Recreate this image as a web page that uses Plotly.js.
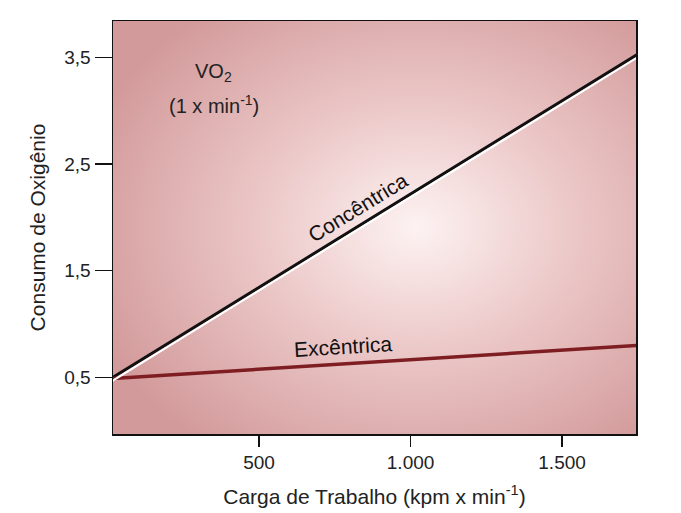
<!DOCTYPE html>
<html>
<head>
<meta charset="utf-8">
<script src="https://cdn.plot.ly/plotly-3.0.1.min.js"></script>
<style>html,body{margin:0;padding:0;background:#fff;}#chart{width:681px;height:513px;}</style>
</head>
<body>
<div id="chart"></div>
<script>
// Data
const workload = [0, 1750];                 // kpm x min^-1
const concentrica = [0.47, 3.53];           // VO2 (l x min^-1)
const excentrica = [0.487, 0.80];
const xTicks = [500, 1000, 1500];
const yTicks = [0.5, 1.5, 2.5, 3.5];

const xRange = [18, 1744];
const yRange = [-0.03, 3.84];
const shadowShift = 0.03;

const svg = "<svg xmlns='http://www.w3.org/2000/svg' width='100' height='100' preserveAspectRatio='none'>" +
  "<defs><radialGradient id='g' cx='0.58' cy='0.5' r='0.66' gradientUnits='objectBoundingBox'>" +
  "<stop offset='0' stop-color='#fdf2f2'/><stop offset='0.45' stop-color='#ecc8c8'/><stop offset='1' stop-color='#d39a9b'/></radialGradient></defs>" +
  "<rect width='100' height='100' fill='url(#g)'/></svg>";
const bgSrc = "data:image/svg+xml;charset=utf-8," + encodeURIComponent(svg);

const font = "Liberation Sans, Arial, sans-serif";

const traces = [
  {x: workload, y: concentrica, yaxis: 'y2', mode: 'lines', line: {color: '#ffffff', width: 2}, hoverinfo: 'skip', showlegend: false},
  {x: workload, y: concentrica, mode: 'lines', name: 'Concêntrica', line: {color: '#111111', width: 3}, showlegend: false},
  {x: workload, y: excentrica, mode: 'lines', name: 'Excêntrica', line: {color: '#7e1e22', width: 3.5}, showlegend: false}
];

const layout = {
  width: 681, height: 513,
  margin: {l: 113, r: 45, t: 21, b: 79},
  paper_bgcolor: '#ffffff',
  plot_bgcolor: 'rgba(0,0,0,0)',
  separators: ',.',
  font: {family: font, color: '#222', size: 15},
  images: [{source: bgSrc, xref: 'paper', yref: 'paper', x: 0, y: 1, sizex: 1, sizey: 1,
            xanchor: 'left', yanchor: 'top', sizing: 'stretch', layer: 'below'}],
  xaxis: {
    range: xRange, tickvals: xTicks, tickformat: ',d',
    showgrid: false, zeroline: false,
    showline: true, linecolor: '#111', linewidth: 1.5, mirror: true,
    ticks: 'outside', ticklen: 11, tickwidth: 1.5, tickcolor: '#111',
    tickfont: {family: font, size: 19, color: '#222'},
    title: {text: 'Carga de Trabalho (kpm x min<sup>-1</sup>)', font: {family: font, size: 21, color: '#222'}, standoff: 17}
  },
  yaxis: {
    range: yRange, tickvals: yTicks, tickformat: '.1f',
    showgrid: false, zeroline: false,
    showline: true, linecolor: '#111', linewidth: 1.5, mirror: true,
    ticks: 'outside', ticklen: 17, tickwidth: 1.5, tickcolor: '#111',
    tickfont: {family: font, size: 19, color: '#222'},
    title: {text: 'Consumo de Oxigênio', font: {family: font, size: 21, color: '#222'}, standoff: 13}
  },
  yaxis2: {
    overlaying: 'y', range: [yRange[0] + shadowShift, yRange[1] + shadowShift],
    visible: false, showgrid: false, zeroline: false
  },
  annotations: [
    {x: 351, y: 3.36, xref: 'x', yref: 'y', text: 'VO<sub>2</sub>', showarrow: false, font: {family: font, size: 20, color: '#222'}},
    {x: 351, y: 3.06, xref: 'x', yref: 'y', text: '(1 x min<sup>-1</sup>)', showarrow: false, font: {family: font, size: 20, color: '#222'}},
    {x: 826, y: 2.09, xref: 'x', yref: 'y', text: 'Concêntrica', textangle: -31.5, showarrow: false, font: {family: font, size: 21, color: '#111'}},
    {x: 777, y: 0.79, xref: 'x', yref: 'y', text: 'Excêntrica', textangle: -3.5, showarrow: false, font: {family: font, size: 21, color: '#111'}}
  ]
};

Plotly.newPlot('chart', traces, layout, {displayModeBar: false, staticPlot: true});
</script>
</body>
</html>
